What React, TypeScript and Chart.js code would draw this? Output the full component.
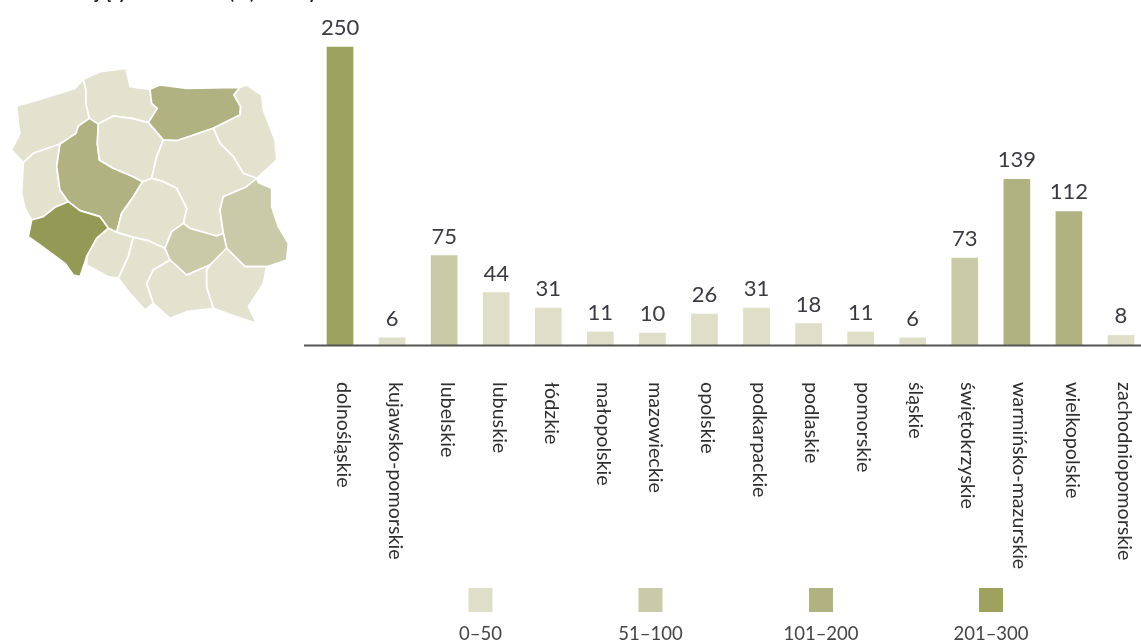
import React, { useEffect, useRef } from "react";
import { Chart, registerables } from "chart.js";

Chart.register(...registerables);

const categories = ["dolnośląskie","kujawsko-pomorskie","lubelskie","lubuskie","łódzkie","małopolskie","mazowieckie","opolskie","podkarpackie","podlaskie","pomorskie","śląskie","świętokrzyskie","warmińsko-mazurskie","wielkopolskie","zachodniopomorskie"];
const values = [250,6,75,44,31,11,10,26,31,18,11,6,73,139,112,8];
const binLabels = ["0–50","51–100","101–200","201–300"];
const binLimits = [50,100,200,300];
const binColors = ["#DFDEC9","#C9CAA8","#B1B282","#9DA25E"];

const binOf = (v: number) => binLimits.findIndex((l) => v <= l);

// Map outlines (traced at 3x), each with its bin index
const regions: [number, number[]][] = [
  [0,[250,238,225,265,130,295,50,318,55,370,60,400,35,450,70,488,100,460,180,432,228,400,235,378,268,355,258,310,258,270]],
  [0,[250,238,300,215,378,205,390,260,450,268,455,310,472,325,445,368,395,355,340,348,295,372,268,355,258,310,258,270]],
  [2,[450,268,480,255,560,265,720,262,702,285,722,320,720,345,640,385,530,422,490,420,445,368,472,325,455,310]],
  [0,[720,262,740,255,785,285,790,330,825,420,830,480,770,535,730,520,700,470,660,430,640,385,720,345,722,320,702,285]],
  [0,[70,488,100,460,180,432,170,500,180,570,205,605,165,622,130,650,95,660,75,625,65,580]],
  [2,[268,355,295,372,292,430,298,480,340,505,400,530,428,545,400,590,365,640,350,697,325,685,300,650,240,632,205,605,180,570,170,500,180,432,228,400,235,378]],
  [0,[295,372,340,348,395,355,445,368,490,420,470,470,455,535,428,545,400,530,340,505,298,480,292,430]],
  [0,[490,420,530,422,640,385,660,430,700,470,730,520,770,535,740,560,670,590,660,630,670,700,650,708,570,685,550,670,560,625,530,565,490,545,455,535,470,470]],
  [0,[428,545,455,535,490,545,530,565,560,625,550,670,515,695,495,745,445,722,400,712,350,697,365,640,400,590]],
  [1,[670,590,740,560,770,535,775,548,815,565,815,620,835,680,865,730,860,780,800,800,735,800,680,745,670,700,660,630]],
  [3,[95,660,130,650,165,622,205,605,240,632,300,650,325,685,290,715,260,770,240,830,220,825,195,790,120,735,85,710]],
  [0,[325,685,350,697,400,712,385,770,355,835,325,830,260,795,260,770,290,715]],
  [0,[400,712,445,722,495,745,510,780,460,810,440,850,460,910,435,930,390,880,355,835,385,770]],
  [1,[515,695,550,670,570,685,650,708,670,700,680,745,630,795,560,825,510,780,495,745]],
  [0,[510,780,560,825,630,795,620,810,620,860,640,925,560,935,510,955,460,910,440,850,460,810]],
  [0,[630,795,680,745,735,800,800,800,790,850,745,920,770,970,710,950,640,925,620,860,620,810]],
];

const extras = {
  id: "extras",
  beforeDatasetsDraw(chart: any) {
    const { ctx } = chart;
    ctx.save();
    // clipped heading fragments at the very top
    ctx.fillStyle = "#1a1a1a";
    ctx.font = "bold 18px Lato";
    ctx.textBaseline = "alphabetic";
    ctx.textAlign = "left";
    ctx.fillText("j ę y", 95, -1);
    ctx.fillText("(", 229, -1);
    ctx.fillText(")", 250, -1);
    ctx.fillText("y", 308, -1);
    // map
    ctx.save();
    ctx.scale(1 / 3, 1 / 3);
    ctx.lineWidth = 5;
    ctx.lineJoin = "round";
    ctx.strokeStyle = "#ffffff";
    const mapColors = ["#E2E2CF", "#C9CAA8", "#B1B282", "#939A56"];
    regions.forEach(([bin, pts]) => {
      ctx.beginPath();
      for (let i = 0; i < pts.length; i += 2) {
        if (i === 0) ctx.moveTo(pts[i], pts[i + 1]);
        else ctx.lineTo(pts[i], pts[i + 1]);
      }
      ctx.closePath();
      ctx.fillStyle = mapColors[bin];
      ctx.fill();
      ctx.stroke();
    });
    ctx.restore();
    // legend
    const legendX = [480.5, 650.5, 821, 991];
    binLabels.forEach((t, i) => {
      ctx.fillStyle = binColors[i];
      ctx.fillRect(legendX[i] - 12, 588, 24, 24);
      ctx.fillStyle = "#444444";
      ctx.font = "18.5px Lato";
      ctx.textAlign = "center";
      ctx.textBaseline = "alphabetic";
      ctx.fillText(t, legendX[i], 640);
    });
    ctx.restore();
  },
  afterDatasetsDraw(chart: any) {
    const { ctx, scales } = chart;
    const y0 = scales.y.getPixelForValue(0);
    ctx.save();
    ctx.strokeStyle = "#555555";
    ctx.lineWidth = 2;
    ctx.beginPath();
    ctx.moveTo(304, y0 + 0.5);
    ctx.lineTo(1141, y0 + 0.5);
    ctx.stroke();
    const meta = chart.getDatasetMeta(0);
    ctx.fillStyle = "#3A3A42";
    ctx.font = "22px Lato";
    ctx.textAlign = "center";
    ctx.textBaseline = "alphabetic";
    meta.data.forEach((bar: any, i: number) => {
      ctx.fillText(String(values[i]), bar.x, bar.y - 12);
    });
    ctx.restore();
  },
};

export default function App() {
  const ref = useRef<HTMLCanvasElement>(null);
  useEffect(() => {
    const chart = new Chart(ref.current!, {
      type: "bar",
      data: {
        labels: categories,
        datasets: [{
          data: values,
          backgroundColor: values.map((v) => binColors[binOf(v)]),
          barThickness: 26,
          clip: false,
        }],
      },
      options: {
        animation: false,
        responsive: false,
        layout: { padding: { left: 314, right: 3, top: 47, bottom: 0 } },
        plugins: { legend: { display: false }, tooltip: { enabled: false }, title: { display: false } },
        scales: {
          y: { display: false, min: 0, max: 250 },
          x: {
            offset: true,
            grid: { display: false, drawTicks: false },
            border: { display: false },
            afterFit(scale: any) {
              scale.height = 298;
              scale._getXAxisLabelAlignment = () => "left";
            },
            ticks: {
              autoSkip: false,
              minRotation: -90,
              maxRotation: -90,
              padding: 37,
              labelOffset: 3,
              color: "#2E2E2E",
              font: { family: "Lato", size: 19.7 },
            },
          },
        },
      },
      plugins: [extras],
    } as any);
    return () => chart.destroy();
  }, []);
  return (
    <div style={{ position: "fixed", left: 0, top: 0, width: 1141, height: 643, overflow: "hidden", background: "#fff" }}>
      <canvas ref={ref} width={1150} height={643} style={{ display: "block" }} />
    </div>
  );
}
